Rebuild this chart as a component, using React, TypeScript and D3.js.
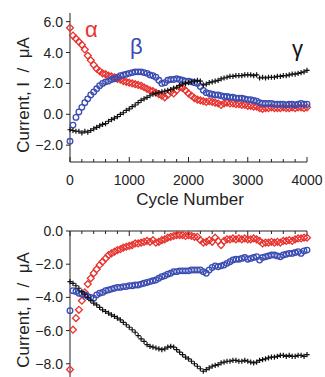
import React from 'react';
import * as d3 from 'd3';

// cycle numbers shared by every series (one point every 50 cycles)
const cycles = d3.range(0, 4001, 50);

// top panel (anodic)
const topAlpha = [
  5.6, 5.1, 4.9, 4.7, 4.5, 4.2, 3.8, 3.5, 3.2, 2.95, 2.8, 2.65, 2.6, 2.5, 2.45, 2.4, 2.3, 2.25, 2.15, 2.1,
  2.05, 2.0, 1.95, 1.9, 1.85, 1.75, 1.65, 1.55, 1.5, 1.4, 1.3, 1.2, 1.1, 1.25, 1.45, 1.35, 1.55, 1.75, 1.7, 1.55,
  1.35, 1.2, 1.05, 0.95, 0.9, 0.85, 0.8, 0.85, 0.8, 0.75, 0.7, 0.6, 0.7, 0.75, 0.7, 0.7, 0.65, 0.65, 0.6, 0.6,
  0.55, 0.55, 0.5, 0.5, 0.4, 0.35, 0.4, 0.4, 0.45, 0.4, 0.4, 0.4, 0.45, 0.4, 0.4, 0.45, 0.4, 0.45, 0.45, 0.4,
  0.45,
];
const topBeta = [
  -1.75, -0.7, -0.2, 0.15, 0.45, 0.75, 1.0, 1.25, 1.45, 1.65, 1.85, 2.0, 2.1, 2.15, 2.25, 2.3, 2.4, 2.5, 2.55, 2.6,
  2.65, 2.7, 2.75, 2.75, 2.75, 2.7, 2.65, 2.55, 2.5, 2.4, 2.2, 2.0, 2.05, 2.2, 2.25, 2.25, 2.3, 2.25, 2.2, 2.15,
  2.15, 2.1, 2.05, 2.0, 1.8, 1.55, 1.4, 1.35, 1.3, 1.25, 1.25, 1.2, 1.15, 1.15, 1.1, 1.1, 1.05, 1.05, 1.05, 1.0,
  0.95, 0.95, 0.9, 0.85, 0.75, 0.7, 0.7, 0.7, 0.7, 0.65, 0.65, 0.65, 0.65, 0.6, 0.65, 0.65, 0.6, 0.65, 0.7, 0.65,
  0.65,
];
const topGamma = [
  -1.0, -1.05, -1.1, -1.1, -1.2, -1.1, -1.15, -1.05, -0.95, -0.85, -0.75, -0.65, -0.6, -0.45, -0.35, -0.25, -0.15, 0.0, 0.1, 0.25,
  0.35, 0.5, 0.6, 0.75, 0.9, 1.0, 1.1, 1.2, 1.3, 1.35, 1.4, 1.45, 1.5, 1.55, 1.6, 1.7, 1.75, 1.85, 1.95, 2.0,
  2.05, 2.1, 2.15, 2.2, 2.15, 1.9, 1.95, 2.05, 2.1, 2.15, 2.2, 2.3, 2.35, 2.4, 2.45, 2.45, 2.5, 2.5, 2.5, 2.55,
  2.55, 2.55, 2.5, 2.55, 2.35, 2.4, 2.35, 2.4, 2.4, 2.4, 2.45, 2.45, 2.5, 2.5, 2.55, 2.6, 2.6, 2.65, 2.7, 2.75,
  2.85,
];

// bottom panel (cathodic)
const botAlpha = [
  -8.35, -5.95, -5.25, -4.75, -4.2, -3.7, -3.2, -2.85, -2.55, -2.3, -2.05, -1.85, -1.65, -1.45, -1.35, -1.25, -1.15, -1.1, -1.0, -0.95,
  -0.9, -0.85, -0.75, -0.75, -0.7, -0.65, -0.6, -0.65, -0.55, -0.7, -0.65, -0.55, -0.5, -0.4, -0.35, -0.3, -0.25, -0.25, -0.25, -0.3,
  -0.25, -0.3, -0.35, -0.35, -0.55, -0.7, -0.65, -0.55, -0.65, -0.4, -0.6, -0.85, -0.6, -0.5, -0.5, -0.45, -0.5, -0.45, -0.5, -0.45,
  -0.5, -0.5, -0.45, -0.5, -0.6, -0.75, -0.7, -0.7, -0.65, -0.7, -0.65, -0.7, -0.6, -0.6, -0.55, -0.6, -0.5, -0.45, -0.45, -0.4,
  -0.4,
];
const botBeta = [
  -4.8, -3.6, -3.65, -3.75, -3.8, -3.85, -3.95, -4.0, -4.05, -3.85, -3.75, -3.7, -3.6, -3.55, -3.5, -3.45, -3.4, -3.4, -3.35, -3.35,
  -3.3, -3.3, -3.25, -3.25, -3.2, -3.15, -3.1, -3.05, -3.0, -2.95, -2.85, -2.75, -2.7, -2.6, -2.55, -2.45, -2.45, -2.4, -2.4, -2.4,
  -2.4, -2.35, -2.35, -2.35, -2.35, -2.45, -2.55, -2.35, -2.2, -2.1, -2.15, -2.1, -2.05, -1.95, -1.85, -1.75, -1.7, -1.7, -1.65, -1.6,
  -1.7, -1.65, -1.6, -1.55, -1.75, -1.6, -1.55, -1.5, -1.45, -1.45, -1.5, -1.55, -1.45, -1.4, -1.35, -1.35, -1.3, -1.25, -1.35, -1.2,
  -1.15,
];
const botGamma = [
  -3.05, -3.15, -3.3, -3.45, -3.65, -3.8, -4.0, -4.2, -4.35, -4.45, -4.6, -4.75, -4.85, -4.95, -5.05, -5.15, -5.25, -5.35, -5.5, -5.65,
  -5.8, -5.95, -6.1, -6.3, -6.5, -6.65, -6.85, -6.95, -7.0, -7.05, -7.1, -7.15, -7.1, -7.0, -6.95, -7.0, -7.15, -7.3, -7.45, -7.6,
  -7.7, -7.85, -8.0, -8.15, -8.3, -8.45, -8.35, -8.25, -8.15, -8.1, -8.05, -7.95, -7.9, -7.85, -7.85, -7.8, -7.8, -7.85, -7.85, -7.8,
  -7.85, -7.9, -7.95, -7.9, -7.8, -7.75, -7.7, -7.65, -7.6, -7.6, -7.55, -7.5, -7.5, -7.55, -7.5, -7.55, -7.55, -7.5, -7.5, -7.55,
  -7.45,
];

const xTickLabels = [0, 1000, 2000, 3000, 4000];
const topYTicks = [6, 4, 2, 0, -2];
const botYTicks = [0, -2, -4, -6, -8];

const RED = '#e8322e';
const BLUE = '#3b4cb2';
const FONT = '"Liberation Sans", Arial, sans-serif';

const x = d3.scaleLinear().domain([0, 4000]).range([70, 307]);
const minorTicks = d3.range(0, 4001, 200);

function Markers({ data, y, kind }) {
  const pts = cycles.map((c, i) => [x(c), y(data[i])]);
  if (kind === 'diamond') {
    const sym = d3.symbol().type(d3.symbolDiamond2).size(30);
    return (
      <g fill="none" stroke={RED} strokeWidth={1.3}>
        {pts.map((p, i) => <path key={i} d={sym()} transform={`translate(${p[0]},${p[1]})`} />)}
      </g>
    );
  }
  if (kind === 'circle') {
    return (
      <g fill="none" stroke={BLUE} strokeWidth={1.3}>
        {pts.map((p, i) => <circle key={i} cx={p[0]} cy={p[1]} r={2.8} />)}
      </g>
    );
  }
  // plus markers drawn as short strokes
  const a = 2.6;
  return (
    <g fill="none" stroke="#111" strokeWidth={1.2}>
      {pts.map((p, i) => (
        <path key={i} d={`M${p[0] - a},${p[1]}H${p[0] + a}M${p[0]},${p[1] - a}V${p[1] + a}`} />
      ))}
    </g>
  );
}

function Panel({ y, yTicks, axisY, tickDir, labelY, series, showXLabels }) {
  const [y0, y1] = y.range();
  return (
    <g>
      {/* y axis */}
      <line x1={70} x2={70} y1={y0} y2={y1} stroke="#222" strokeWidth={1} />
      {yTicks.map((t) => (
        <g key={t}>
          <line x1={66} x2={70} y1={y(t)} y2={y(t)} stroke="#222" />
          <text x={63} y={y(t)} dy="0.36em" textAnchor="end" fontSize={14}>
            {d3.format('.1f')(t)}
          </text>
        </g>
      ))}
      {/* x axis */}
      <line x1={70} x2={307} y1={axisY} y2={axisY} stroke="#222" strokeWidth={1} />
      {minorTicks.map((t) => (
        <line key={t} x1={x(t)} x2={x(t)} y1={axisY} y2={axisY + tickDir * (t % 1000 === 0 ? 5 : 3)} stroke="#222" />
      ))}
      {showXLabels &&
        xTickLabels.map((t) => (
          <text key={t} x={x(t)} y={185} textAnchor="middle" fontSize={14}>
            {t}
          </text>
        ))}
      <text
        transform={`translate(29,${labelY}) rotate(-90)`}
        textAnchor="middle"
        fontSize={17}
        style={{ whiteSpace: 'pre' }}
      >
        {'Current, I  /  μA'}
      </text>
      <Markers data={series[0]} y={y} kind="diamond" />
      <Markers data={series[1]} y={y} kind="circle" />
      <Markers data={series[2]} y={y} kind="plus" />
    </g>
  );
}

export default function App() {
  const yTop = d3.scaleLinear().domain([-3.09, 6.56]).range([162, 13]);
  const yBot = d3.scaleLinear().domain([-8.9, 0]).range([378.7, 231]);

  return (
    <svg
      width={325}
      height={377}
      style={{ position: 'absolute', left: 0, top: 0, background: 'white' }}
      fontFamily={FONT}
      fill="#222"
    >
      <Panel
        y={yTop}
        yTicks={topYTicks}
        axisY={162}
        tickDir={-1}
        labelY={95}
        series={[topAlpha, topBeta, topGamma]}
        showXLabels
      />
      <text x={190} y={205} textAnchor="middle" fontSize={17}>
        Cycle Number
      </text>
      <Panel
        y={yBot}
        yTicks={botYTicks}
        axisY={231}
        tickDir={1}
        labelY={310}
        series={[botAlpha, botBeta, botGamma]}
      />
      <text x={85} y={37} fontSize={22} fill={RED}>α</text>
      <text x={130} y={54} fontSize={22} fill={BLUE}>β</text>
      <text x={292} y={56} fontSize={22} fill="#111">γ</text>
    </svg>
  );
}
